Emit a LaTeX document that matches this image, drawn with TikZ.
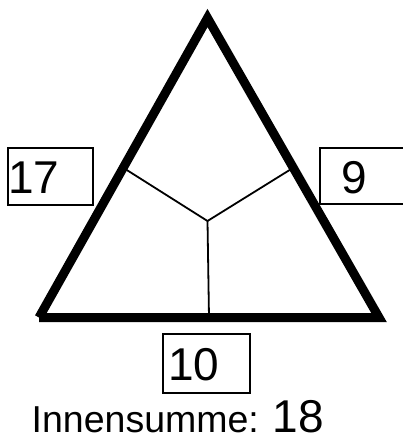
\documentclass[tikz,border=0pt]{standalone}
\usepackage{fontspec}
\setmainfont{Liberation Sans}
\usetikzlibrary{calc}
\tikzset{
    sideline/.style={line width=9pt, line join=miter, line cap=butt},
    spoke/.style={line width=1.8pt},
    numbox/.style={draw, line width=1.8pt, inner sep=0pt},
    numtext/.style={inner sep=0pt, font=\fontsize{46}{46}\selectfont},
    sumtext/.style={inner sep=0pt, font=\fontsize{37.5}{40}\selectfont},
}

\begin{document}
\begin{tikzpicture}[x=1pt, y=-1pt]
    \useasboundingbox (0,0) rectangle (403,441);
    % Corners and centre
    \coordinate (L) at (39,317.5);
    \coordinate (R) at (379,317.5);
    \coordinate (A) at (207.5,18);
    \coordinate (C) at (207.5,221);
    \coordinate (mLA) at ($(L)!0.5!(A)$);
    \coordinate (mRA) at ($(R)!0.5!(A)$);
    \coordinate (mLR) at ($(L)!0.5!(R)$);
    % Triangle
    \draw[sideline] (L) -- (R) -- (A) -- (L);
    % Spokes
    \draw[spoke] (C) -- (mLA);
    \draw[spoke] (C) -- (mRA);
    \draw[spoke] (C) -- (mLR);
    % Side boxes
    \node[numbox, minimum width=85pt, minimum height=57pt] (box17) at (50.5,176.5) {};
    \node[numbox, minimum width=86pt, minimum height=56pt] (box9) at (363,176) {};
    \node[numbox, minimum width=87pt, minimum height=59pt] (box10) at (206.5,363.5) {};
    \node[numtext, anchor=base west] (v17) at (8,193) {17};
    \node[numtext, anchor=base west] (v9) at (341,193) {9};
    \node[numtext, anchor=base west] (v10) at (168,380) {10};
    % Sum
    \node[sumtext, anchor=base west] (isum) at (31.5,432.5)
        {Innensumme: {\fontsize{46}{46}\selectfont 18}};
\end{tikzpicture}
\end{document}
